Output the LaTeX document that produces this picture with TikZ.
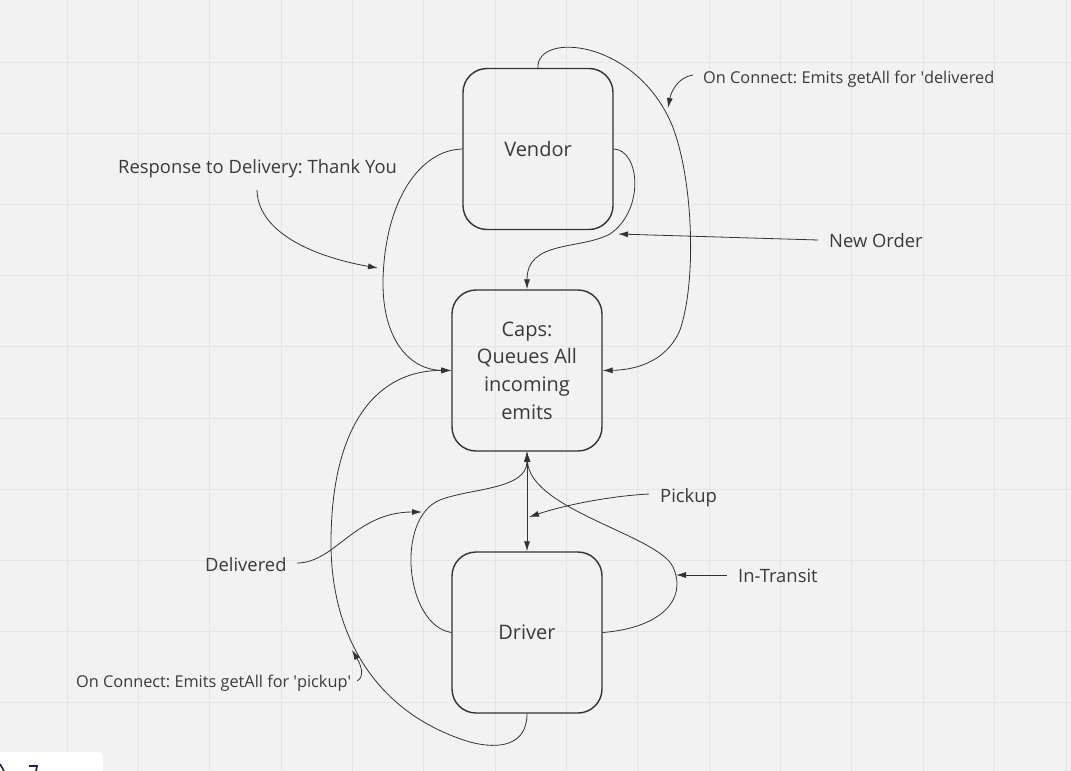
\documentclass[tikz,border=0pt]{standalone}
\usepackage{fontspec}
\setmainfont{Open Sans}
\usetikzlibrary{arrows.meta}
\definecolor{bgc}{HTML}{F2F2F2}
\definecolor{gridc}{HTML}{E5E5E5}
\definecolor{ink}{HTML}{333333}
\definecolor{txt}{HTML}{3A3A3A}
\definecolor{navy}{HTML}{1B1B4B}
\frenchspacing
\tikzset{
  box/.style={draw=ink, line width=1.4pt, rounded corners=24pt, minimum width=150pt, minimum height=161pt, inner sep=0pt, text=txt, align=center, font=\fontsize{20}{27.7}\selectfont},
  lbl/.style={inner sep=0pt, anchor=base west, text=txt, font=\fontsize{18.4}{20}\selectfont},
  lblsm/.style={lbl, font=\fontsize{16.3}{20}\selectfont},
  conn/.style={draw=ink, line width=0.8pt},
  tip/.tip={Latex[length=10pt,width=6pt]},
}
\begin{document}
\begin{tikzpicture}[x={(1pt,0)}, y={(0,-1pt)}]
\useasboundingbox (0,0) rectangle (1071,771);
\fill[bgc] (0,0) rectangle (1071,771);
% grid
\foreach \k in {0,...,14} { \draw[gridc, line width=0.8pt] ({67+71.35*\k},0) -- ({67+71.35*\k},771); }
\foreach \k in {0,...,9} { \draw[gridc, line width=0.8pt] (0,{62+71.2*\k}) -- (1071,{62+71.2*\k}); }
% bottom-left panel
\fill[white, rounded corners=5pt] (-10,752) rectangle (103,790);
\draw[navy, line width=1.6pt] (0,764) -- (4,771);
\draw[navy, line width=1.6pt] (29,766) -- (37,766) -- (36,771);

% boxes
\node[box] (vendor) at (538,149) {Vendor};
\node[box] (caps) at (527,370.5) {Caps:\\Queues All\\incoming\\emits};
\node[box] (driver) at (527,632.5) {Driver};

% labels
\node[lblsm] (ldeliv) at (703,83) {On Connect: Emits getAll for \textquotesingle delivered};
\node[lbl] (lresp) at (118,173) {Response to Delivery: Thank You};
\node[lbl] (lnew) at (829,247) {New Order};
\node[lbl] (lpick) at (660,502) {Pickup};
\node[lbl] (ltrans) at (738,582) {In-Transit};
\node[lbl] (ldel) at (205,571) {Delivered};
\node[lblsm] (lpickc) at (76,687) {On Connect: Emits getAll for \textquotesingle pickup\textquotesingle};

% free ends / targets on curves
\coordinate (sresp) at (257,190);
\coordinate (tresp) at (378,268);
\coordinate (snew) at (818,240);
\coordinate (tnew) at (618,234);
\coordinate (sdeliv) at (693,75);
\coordinate (tdeliv) at (668,108);
\coordinate (spick) at (649,494);
\coordinate (tpick) at (529,517);
\coordinate (strans) at (727,575);
\coordinate (ttrans) at (676,575);
\coordinate (sdel) at (297,563);
\coordinate (tdel) at (422,512);
\coordinate (spickc) at (357,681);
\coordinate (tpickc) at (352,650);

% Vendor top -> Caps right
\draw[conn,-{tip}] (vendor.north) .. controls (536,32) and (635,38) .. (672,125)
  .. controls (693,178) and (697,280) .. (680,330)
  .. controls (665,365) and (630,370) .. (caps.east);
% Vendor left -> Caps left
\draw[conn,-{tip}] (vendor.west) .. controls (420,150) and (385,200) .. (383,280)
  .. controls (382,340) and (410,370) .. (caps.west);
% Vendor right -> Caps top
\draw[conn,-{tip}] (vendor.east) .. controls (640,150) and (645,210) .. (610,234)
  .. controls (580,250) and (527,240) .. (caps.north);
% Caps <-> Driver
\draw[conn,{tip}-{tip}] (caps.south) -- (driver.north);
% Driver left -> Caps bottom
\draw[conn,-{tip}] (driver.west) .. controls (405,625) and (395,518) .. (440,500)
  .. controls (470,488) and (527,490) .. (caps.south);
% Driver right -> Caps bottom
\draw[conn,-{tip}] (driver.east) .. controls (660,628) and (688,600) .. (673,567)
  .. controls (658,535) and (530,510) .. (caps.south);
% Driver bottom -> Caps left
\draw[conn,-{tip}] (driver.south) .. controls (527,745) and (500,750) .. (470,742)
  .. controls (380,715) and (330,640) .. (331,540)
  .. controls (332,420) and (380,370) .. (caps.west);

% label arrows
\draw[conn,-{tip}] (sresp) .. controls (258,235) and (320,258) .. (tresp);
\draw[conn,-{tip}] (snew) -- (tnew);
\draw[conn,-{tip}] (sdeliv) .. controls (678,77) and (671,92) .. (tdeliv);
\draw[conn,-{tip}] (spick) .. controls (610,496) and (565,505) .. (tpick);
\draw[conn,-{tip}] (strans) -- (ttrans);
\draw[conn,-{tip}] (sdel) .. controls (335,563) and (355,512) .. (tdel);
\draw[conn,-{tip}] (spickc) .. controls (365,677) and (361,665) .. (tpickc);
\end{tikzpicture}
\end{document}
